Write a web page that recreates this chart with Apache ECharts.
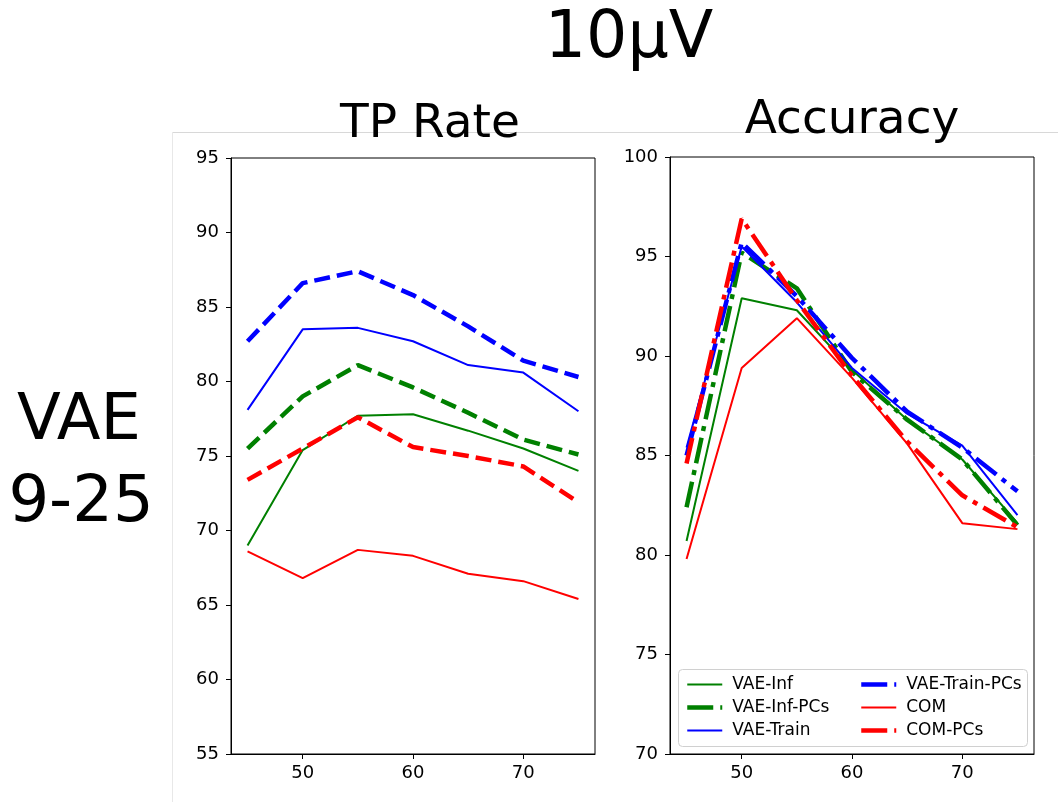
<!DOCTYPE html>
<html>
<head>
<meta charset="utf-8">
<title>10μV</title>
<script src="https://cdn.jsdelivr.net/npm/echarts@6/dist/echarts.min.js"></script>
<style>
html, body { margin: 0; padding: 0; background: #fff; }
#chart { width: 1058px; height: 802px; }
</style>
</head>
<body>
<div id="chart"></div>
<script>
var xValues = [45, 50, 55, 60, 65, 70, 75];
var xTicks = [50, 60, 70];
var tpTicks = [55, 60, 65, 70, 75, 80, 85, 90, 95];
var accTicks = [70, 75, 80, 85, 90, 95, 100];

// TP Rate
var tpVaeInf      = [69.0, 75.4, 77.7, 77.8, 76.7, 75.5, 74.0];
var tpVaeInfPcs   = [75.5, 79.0, 81.1, 79.6, 77.9, 76.1, 75.1];
var tpVaeTrain    = [78.1, 83.5, 83.6, 82.7, 81.1, 80.6, 78.0];
var tpVaeTrainPcs = [82.7, 86.6, 87.4, 85.8, 83.7, 81.4, 80.3];
var tpCom         = [68.6, 66.8, 68.7, 68.3, 67.1, 66.6, 65.4];
var tpComPcs      = [73.4, 75.5, 77.6, 75.6, 75.0, 74.3, 71.9];

// Accuracy
var accVaeInf      = [80.7, 92.9, 92.3, 89.3, 86.8, 84.8, 81.6];
var accVaeInfPcs   = [82.4, 95.2, 93.4, 89.2, 86.8, 84.8, 81.5];
var accVaeTrain    = [85.4, 95.5, 92.7, 89.4, 87.1, 85.5, 82.0];
var accVaeTrainPcs = [85.0, 95.7, 93.0, 89.9, 87.2, 85.4, 83.2];
var accCom         = [79.8, 89.4, 91.9, 88.9, 85.6, 81.6, 81.3];
var accComPcs      = [84.6, 96.9, 92.8, 89.0, 85.7, 83.0, 81.4];

var FONT = 'DejaVu Sans';
var GREEN = '#008000', BLUE = '#0000ff', RED = '#ff0000';
var DASH_LEFT = [16, 7];
var DASH_RIGHT = [26, 7, 5, 7];

function pairs(vals) {
	return xValues.map(function (x, i) { return [x, vals[i]]; });
}

function line(name, vals, idx, color, pcs) {
	return {
		name: name,
		type: 'line',
		xAxisIndex: idx,
		yAxisIndex: idx,
		symbol: 'none',
		silent: true,
		animation: false,
		color: color,
		lineStyle: {
			color: color,
			width: pcs ? 4.5 : 2,
			type: pcs ? (idx === 0 ? DASH_LEFT : DASH_RIGHT) : 'solid',
			cap: 'butt'
		},
		data: pairs(vals)
	};
}

function xAxis(idx) {
	return {
		type: 'value',
		gridIndex: idx,
		min: 43.5,
		max: 76.5,
		splitLine: { show: false },
		axisLine: { lineStyle: { color: '#000', width: 1 } },
		axisTick: { customValues: xTicks, length: 5, lineStyle: { color: '#000' } },
		axisLabel: { customValues: xTicks, color: '#000', fontSize: 18, fontFamily: FONT, margin: 10 }
	};
}

function yAxis(idx, min, max, ticks) {
	return {
		type: 'value',
		gridIndex: idx,
		min: min,
		max: max,
		interval: 5,
		splitLine: { show: false },
		axisLine: { show: true, lineStyle: { color: '#000', width: 1 } },
		axisTick: { show: true, customValues: ticks, length: 5, lineStyle: { color: '#000' } },
		axisLabel: { customValues: ticks, color: '#000', fontSize: 18, fontFamily: FONT, margin: 12 }
	};
}

function legendItem(name, color, pcs) {
	return {
		name: name,
		itemStyle: { opacity: 0 },
		lineStyle: { color: color, width: pcs ? 4.5 : 2, type: pcs ? DASH_RIGHT : 'solid', cap: 'butt' }
	};
}

function legendBlock(left, items) {
	return {
		orient: 'vertical',
		left: left,
		top: 671,
		itemWidth: 35,
		itemHeight: 14,
		itemGap: 6,
		data: items,
		selectedMode: false,
		textStyle: { color: '#000', fontSize: 17, fontFamily: FONT, padding: [0, 0, 0, 5] }
	};
}

function label(text, x, y, size) {
	return {
		type: 'text', x: x, y: y, z: 10,
		style: { text: text, fontSize: size, fontFamily: FONT, fill: '#000', textAlign: 'center', textVerticalAlign: 'middle' }
	};
}

var chart = echarts.init(document.getElementById('chart'), null, { renderer: 'canvas' });
chart.setOption({
	backgroundColor: '#fff',
	animation: false,
	grid: [
		{ left: 231, top: 158, width: 364, height: 596, show: true, borderColor: '#000', borderWidth: 1, backgroundColor: 'transparent', outerBoundsMode: 'none' },
		{ left: 670, top: 157, width: 364, height: 597, show: true, borderColor: '#000', borderWidth: 1, backgroundColor: 'transparent', outerBoundsMode: 'none' }
	],
	xAxis: [xAxis(0), xAxis(1)],
	yAxis: [yAxis(0, 55, 95, tpTicks), yAxis(1, 70, 100, accTicks)],
	legend: [
		legendBlock(680, [legendItem('VAE-Inf', GREEN, false), legendItem('VAE-Inf-PCs', GREEN, true), legendItem('VAE-Train', BLUE, false)]),
		legendBlock(854, [legendItem('VAE-Train-PCs', BLUE, true), legendItem('COM', RED, false), legendItem('COM-PCs', RED, true)])
	],
	graphic: [
		{ type: 'line', z: 0, silent: true, shape: { x1: 172, y1: 132.5, x2: 1058, y2: 132.5 }, style: { stroke: '#d8d8d8', lineWidth: 1 } },
		{ type: 'line', z: 0, silent: true, shape: { x1: 172.5, y1: 132, x2: 172.5, y2: 802 }, style: { stroke: '#e8e8e8', lineWidth: 1 } },
		{ type: 'rect', z: 3, silent: true, shape: { x: 678.5, y: 669.5, width: 349, height: 77, r: 4 }, style: { fill: 'rgba(255,255,255,0.8)', stroke: '#d0d0d0', lineWidth: 1 } },
		label('10μV', 629, 40, 65),
		label('TP Rate', 430, 125, 47),
		label('Accuracy', 852, 121, 47),
		label('VAE', 79, 422, 64),
		label('9-25', 81, 504, 64)
	],
	series: [
		line('VAE-Inf', tpVaeInf, 0, GREEN, false),
		line('VAE-Inf-PCs', tpVaeInfPcs, 0, GREEN, true),
		line('VAE-Train', tpVaeTrain, 0, BLUE, false),
		line('VAE-Train-PCs', tpVaeTrainPcs, 0, BLUE, true),
		line('COM', tpCom, 0, RED, false),
		line('COM-PCs', tpComPcs, 0, RED, true),
		line('VAE-Inf', accVaeInf, 1, GREEN, false),
		line('VAE-Inf-PCs', accVaeInfPcs, 1, GREEN, true),
		line('VAE-Train', accVaeTrain, 1, BLUE, false),
		line('VAE-Train-PCs', accVaeTrainPcs, 1, BLUE, true),
		line('COM', accCom, 1, RED, false),
		line('COM-PCs', accComPcs, 1, RED, true)
	]
});
</script>
</body>
</html>
